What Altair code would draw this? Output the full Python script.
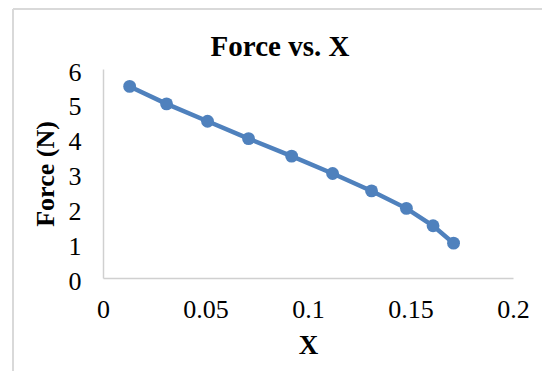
import altair as alt
import pandas as pd

x_vals = [0.013, 0.031, 0.051, 0.071, 0.092, 0.112, 0.131, 0.148, 0.161, 0.171]
force_vals = [5.5, 5.0, 4.5, 4.0, 3.5, 3.0, 2.5, 2.0, 1.5, 1.0]
x_ticks = [0, 0.05, 0.1, 0.15, 0.2]
y_ticks = [0, 1, 2, 3, 4, 5, 6]

df = pd.DataFrame({"X": x_vals, "Force": force_vals})

FONT = "Times New Roman"
BLUE = "#4F81BD"
AXIS_GRAY = "#D0D0D0"

x_enc = alt.X("X:Q", scale=alt.Scale(domain=[0, 0.2], nice=False),
              axis=alt.Axis(values=x_ticks, format="~g", title="X", grid=False, ticks=False,
                            domainColor=AXIS_GRAY, domainWidth=1.5,
                            labelFont=FONT, labelFontSize=26, labelColor="#000",
                            labelPadding=18, labelFlush=False, labelOverlap=False,
                            titleFont=FONT, titleFontSize=27, titleFontWeight="bold",
                            titleColor="#000", titlePadding=10))
y_enc = alt.Y("Force:Q", scale=alt.Scale(domain=[0, 6], nice=False),
              axis=alt.Axis(values=y_ticks, tickCount=7, format="d", title="Force (N)",
                            grid=False, ticks=False,
                            domainColor=AXIS_GRAY, domainWidth=1.5,
                            labelFont=FONT, labelFontSize=26, labelColor="#000",
                            labelPadding=22, labelFlush=False, labelOverlap=False,
                            labelSeparation=0,
                            labelBaseline="middle", labelOffset=3,
                            titleFont=FONT, titleFontSize=26, titleFontWeight="bold",
                            titleColor="#000", titlePadding=10))

base = alt.Chart(df).encode(x=x_enc, y=y_enc)
line = base.mark_line(color=BLUE, strokeWidth=4.5)
pts = base.mark_circle(color=BLUE, size=165, opacity=1)

frame_left = alt.Chart(df).mark_rule(color="#D9D9D9", strokeWidth=1.5, clip=False).encode(
    x=alt.value(-90), y=alt.value(-60), y2=alt.value(320))
frame_top = alt.Chart(df).mark_rule(color="#D9D9D9", strokeWidth=1.5, clip=False).encode(
    x=alt.value(-90), x2=alt.value(460), y=alt.value(-60))

chart = alt.layer(line, pts, frame_left, frame_top).properties(
    width=410, height=209,
    background="white",
    title=alt.TitleParams("Force vs. X", font=FONT, fontSize=29, fontWeight="bold",
                          color="#000", anchor="middle", dx=-28, offset=10, dy=64),
    autosize=alt.AutoSizeParams(type="none"),
    padding={"left": 103, "top": 69, "right": 29, "bottom": 93},
).configure_view(stroke=None).configure_axis(labelOverlap=False)

chart.save("out.html", embed_options={"renderer": "svg", "actions": False})
